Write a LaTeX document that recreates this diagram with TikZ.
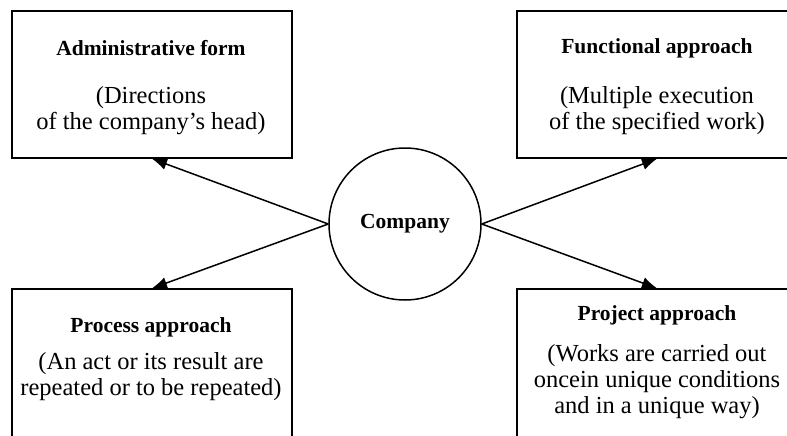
\documentclass[tikz,border=0pt]{standalone}
\usepackage{fontspec}
\setmainfont{Liberation Serif}
\usetikzlibrary{arrows.meta}
\begin{document}
\begin{tikzpicture}[x=1pt,y=-1pt, line width=1.5pt,
  boxnode/.style={draw, minimum width=280pt, minimum height=147pt, inner sep=0pt},
  lowbox/.style={draw, minimum width=280pt, minimum height=160pt, inner sep=0pt},
  ttl/.style={font=\fontsize{21.5}{24}\selectfont\bfseries, inner sep=0pt},
  bod/.style={font=\fontsize{24.5}{26}\selectfont, align=center, inner sep=0pt},
  arr/.style={-{Latex[length=15pt,width=12pt]}}]
\useasboundingbox (0,0) rectangle (787,436);
\clip (0,0) rectangle (787,436);
% boxes
\node[boxnode] (b1) at (152,84.5) {};
\node[boxnode] (b2) at (657,84.5) {};
\node[lowbox] (b3) at (152,369) {};
\node[lowbox] (b4) at (657,369) {};
% texts
\node[ttl] (t1) at (151,48) {Administrative form};
\node[bod] (d1) at (151,111) {(Directions\\of the company’s head)};
\node[ttl] (t2) at (657,48) {Functional approach};
\node[bod] (d2) at (657,111) {(Multiple execution\\of the specified work)};
\node[ttl] (t3) at (151,327) {Process approach};
\node[bod] (d3) at (151,377) {(An act or its result are\\repeated or to be repeated)};
\node[ttl] (t4) at (657,315) {Project approach};
\node[bod] (d4) at (657,382) {(Works are carried out\\oncein unique conditions\\and in a unique way)};
% center
\node[draw, circle, minimum size=152pt, inner sep=0pt, font=\fontsize{21.5}{24}\selectfont\bfseries] (c) at (405,224) {Company};
% connectors
\draw[arr] (c.west) -- (b1.south);
\draw[arr] (c.west) -- (b3.north);
\draw[arr] (c.east) -- (b2.south);
\draw[arr] (c.east) -- (b4.north);
\end{tikzpicture}
\end{document}
